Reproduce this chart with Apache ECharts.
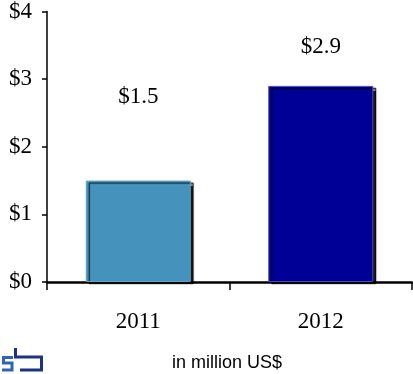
<!DOCTYPE html>
<html>
<head>
<meta charset="utf-8">
<script src="https://cdn.jsdelivr.net/npm/echarts@6/dist/echarts.min.js"></script>
<style>
  html, body { margin: 0; padding: 0; background: #fff; }
  #chart { width: 413px; height: 374px; }
</style>
</head>
<body>
<div id="chart"></div>
<script>
// Revenue by year, in million US$
const years = ['2011', '2012'];
const revenue = [1.5, 2.9];
const barColors = ['#4592bc', '#000096'];
const barEdges = ['#5ea3c8', '#4a4ab8'];
const labelGaps = [72, 27];

const serif = '"Liberation Serif", "Times New Roman", serif';

const chart = echarts.init(document.getElementById('chart'), null, { renderer: 'canvas' });

chart.setOption({
  animation: false,
  grid: { left: 47, right: 1, top: 6, bottom: 92, containLabel: false },
  xAxis: {
    type: 'category',
    data: years,
    boundaryGap: true,
    axisLine: { lineStyle: { color: '#000', width: 2.5 } },
    axisTick: { show: true, length: 8, lineStyle: { color: '#000', width: 1.5 } },
    axisLabel: { color: '#000', fontFamily: serif, fontSize: 23, margin: 28 }
  },
  yAxis: {
    type: 'value',
    min: 0,
    max: 4,
    interval: 1,
    splitLine: { show: false },
    axisLine: { show: true, lineStyle: { color: '#000', width: 1.5 } },
    axisTick: { show: true, length: 5, lineStyle: { color: '#000', width: 1.5 } },
    axisLabel: {
      color: '#000', fontFamily: serif, fontSize: 23, margin: 15,
      formatter: v => '$' + v
    }
  },
  series: [{
    type: 'bar',
    barWidth: 105,
    data: revenue.map((v, i) => ({
      value: v,
      itemStyle: {
        color: barColors[i],
        borderColor: barEdges[i],
        borderWidth: 1,
        shadowColor: 'rgba(0,0,0,0.9)',
        shadowOffsetX: 3,
        shadowOffsetY: 2,
        shadowBlur: 1
      },
      label: {
        show: true,
        position: 'top',
        distance: labelGaps[i],
        color: '#000',
        fontFamily: serif,
        fontSize: 23,
        formatter: p => '$' + p.value
      }
    }))
  }],
  graphic: [
    {
      type: 'text',
      left: 172,
      top: 354,
      style: {
        text: 'in million US$',
        fill: '#000',
        font: '18px "Liberation Sans", Arial, sans-serif'
      }
    },
    // company logo
    {
      type: 'polyline',
      shape: { points: [[15.5, 348], [15.5, 357], [41.5, 357], [41.5, 370], [20, 370]] },
      style: { stroke: '#1b3382', lineWidth: 3, fill: null }
    },
    {
      type: 'polyline',
      shape: { points: [[13, 357.5], [3.5, 357.5], [3.5, 363], [12, 363], [12, 370], [2, 370]] },
      style: { stroke: '#2e66b2', lineWidth: 3, fill: null }
    }
  ]
});
</script>
</body>
</html>
